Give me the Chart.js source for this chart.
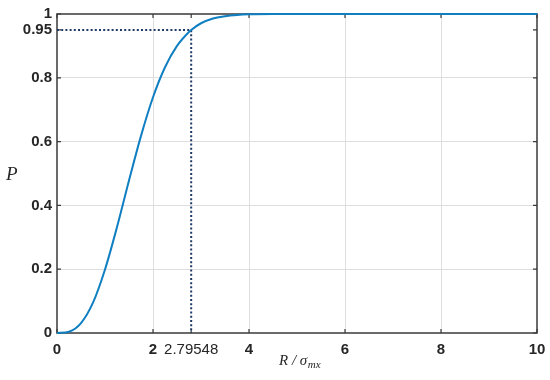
<!DOCTYPE html>
<html>
<head>
<meta charset="utf-8">
<script src="https://cdn.jsdelivr.net/npm/chart.js@4/dist/chart.umd.min.js"></script>
<style>
html,body{margin:0;padding:0;background:#fff;}
#wrap{width:550px;height:380px;}
</style>
</head>
<body>
<div id="wrap"><canvas id="c" width="550" height="380"></canvas></div>
<script>
// Data
const xValues = [0, 0.25, 0.5, 0.75, 1, 1.25, 1.5, 1.75, 2, 2.25, 2.5, 2.75, 2.79548, 3, 3.25, 3.5, 3.75, 4, 4.5, 5, 6, 7, 8, 9, 10];
const pValues = [0, 0.004, 0.031, 0.095, 0.199, 0.332, 0.478, 0.618, 0.739, 0.833, 0.900, 0.944, 0.95, 0.971, 0.986, 0.993, 0.997, 0.999, 1.0, 1.0, 1.0, 1.0, 1.0, 1.0, 1.0];
const markerX = [0, 2.79548, 2.79548];
const markerY = [0.95, 0.95, 0];
const xTicks = [0, 2, 2.79548, 4, 6, 8, 10];
const yTicks = [0, 0.2, 0.4, 0.6, 0.8, 0.95, 1];
const xSpecial = 2.79548;
const ySpecial = 0.95;

const curve = xValues.map((x, i) => ({x: x, y: pValues[i]}));
const marker = markerX.map((x, i) => ({x: x, y: markerY[i]}));

const axisColor = '#3a3a3a';
const gridColor = '#dedede';

const framePlugin = {
  id: 'frame',
  beforeDatasetsDraw(chart) {
    const {ctx, chartArea: a, scales} = chart;
    ctx.save();
    ctx.strokeStyle = axisColor;
    ctx.lineWidth = 1.5;
    ctx.strokeRect(a.left, a.top, a.right - a.left, a.bottom - a.top);
    ctx.lineWidth = 1.2;
    const tl = 4;
    xTicks.forEach(v => {
      const px = scales.x.getPixelForValue(v);
      ctx.beginPath();
      ctx.moveTo(px, a.bottom); ctx.lineTo(px, a.bottom - tl);
      ctx.moveTo(px, a.top); ctx.lineTo(px, a.top + tl);
      ctx.stroke();
    });
    yTicks.forEach(v => {
      const py = scales.y.getPixelForValue(v);
      ctx.beginPath();
      ctx.moveTo(a.left, py); ctx.lineTo(a.left + tl, py);
      ctx.moveTo(a.right, py); ctx.lineTo(a.right - tl, py);
      ctx.stroke();
    });
    ctx.restore();
  },
  afterDraw(chart) {
    const {ctx} = chart;
    ctx.save();
    ctx.fillStyle = '#262626';
    // y-axis title
    ctx.font = 'italic 19px "Liberation Serif", "Times New Roman", serif';
    ctx.textAlign = 'left';
    ctx.textBaseline = 'alphabetic';
    ctx.fillText('P', 6, 180);
    // x-axis title  R / sigma_mx
    ctx.font = 'italic 15px "Liberation Serif", "Times New Roman", serif';
    const x = 279, y = 365;
    ctx.fillText('R / σ', x, y);
    const w = ctx.measureText('R / σ').width;
    ctx.font = 'italic 11px "Liberation Serif", "Times New Roman", serif';
    ctx.fillText('mx', x + w + 0.5, y + 3);
    ctx.restore();
  }
};

new Chart(document.getElementById('c'), {
  type: 'line',
  data: {
    datasets: [
      {
        data: curve,
        borderColor: '#0f7fc2',
        borderWidth: 2,
        pointRadius: 0,
        fill: false,
        cubicInterpolationMode: 'monotone',
        clip: false
      },
      {
        data: marker,
        borderColor: '#1f3a66',
        borderWidth: 2,
        borderDash: [2, 2.2],
        pointRadius: 0,
        fill: false,
        tension: 0,
        clip: false
      }
    ]
  },
  options: {
    responsive: false,
    animation: false,
    events: [],
    layout: {padding: {top: 14, right: 13, left: 0, bottom: 0}},
    plugins: {legend: {display: false}, tooltip: {enabled: false}},
    scales: {
      x: {
        type: 'linear',
        min: 0, max: 10,
        afterBuildTicks(scale) { scale.ticks = xTicks.map(v => ({value: v})); },
        afterFit(scale) { scale.height = 47; scale.paddingLeft = 0; scale.paddingRight = 0; },
        border: {display: false},
        grid: {
          drawTicks: false,
          color: c => (c.tick && (c.tick.value === 0 || c.tick.value === 10 || c.tick.value === xSpecial)) ? 'rgba(0,0,0,0)' : gridColor,
          lineWidth: 1
        },
        ticks: {
          autoSkip: false,
          maxRotation: 0,
          padding: 8,
          color: '#262626',
          font: c => (c.tick && c.tick.value === xSpecial)
            ? {family: '"Liberation Sans", Arial, sans-serif', size: 15, weight: 'normal'}
            : {family: '"Liberation Sans", Arial, sans-serif', size: 15, weight: 'bold'},
          callback: v => String(v)
        }
      },
      y: {
        type: 'linear',
        min: 0, max: 1,
        afterBuildTicks(scale) { scale.ticks = yTicks.map(v => ({value: v})); },
        afterFit(scale) { scale.width = 57; scale.paddingTop = 0; scale.paddingBottom = 0; },
        border: {display: false},
        grid: {
          drawTicks: false,
          color: c => (c.tick && (c.tick.value === 0 || c.tick.value === 1 || c.tick.value === ySpecial)) ? 'rgba(0,0,0,0)' : gridColor,
          lineWidth: 1
        },
        ticks: {
          autoSkip: false,
          padding: 5,
          color: '#262626',
          font: {family: '"Liberation Sans", Arial, sans-serif', size: 15, weight: 'bold'},
          callback: v => String(v)
        }
      }
    }
  },
  plugins: [framePlugin]
});
</script>
</body>
</html>
